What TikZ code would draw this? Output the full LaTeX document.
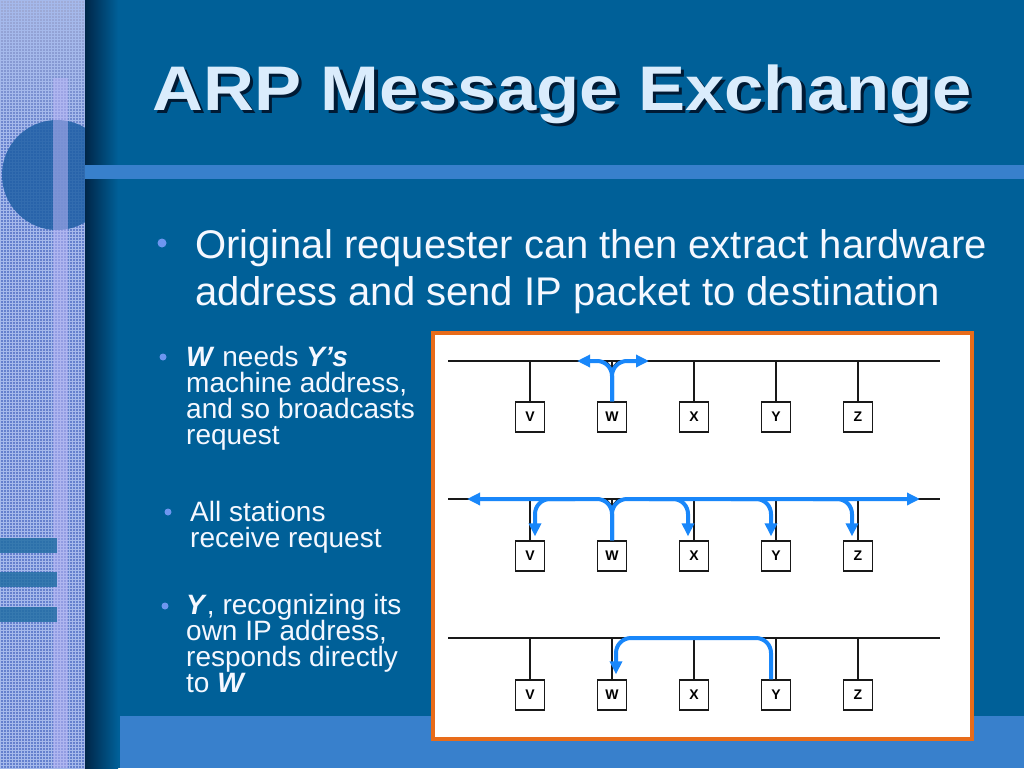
\documentclass[tikz,border=0pt]{standalone}
\usepackage{fontspec}
\setmainfont{Liberation Sans}
\usepackage{graphicx}
\usetikzlibrary{arrows.meta,calc,patterns}
\definecolor{bg}{RGB}{0,96,152}
\definecolor{barc}{RGB}{56,128,204}
\definecolor{stripc}{RGB}{100,128,205}
\definecolor{striptop}{RGB}{160,172,215}
\definecolor{gridc}{RGB}{165,185,235}
\definecolor{stripe}{RGB}{185,180,245}
\definecolor{circc}{RGB}{30,95,165}
\definecolor{tealc}{RGB}{35,110,165}
\definecolor{titlec}{RGB}{218,236,252}
\definecolor{shadowc}{RGB}{0,26,52}
\definecolor{sidesh}{RGB}{0,38,72}
\definecolor{dotc}{RGB}{110,150,240}
\definecolor{orangec}{RGB}{232,108,26}
\definecolor{arrowc}{RGB}{25,135,250}
\definecolor{busc}{RGB}{25,25,25}
\newcommand\mylines[2]{\vtop{\baselineskip=#1\lineskiplimit=-100pt\lineskip=0pt #2}}
\begin{document}
\begin{tikzpicture}[x=1pt,y=-1pt,
  titletext/.style={anchor=base west,inner sep=0pt,font=\fontsize{63}{70}\selectfont\bfseries},
  bodytext/.style={anchor=base west,inner sep=0pt,text={rgb,255:red,245;green,248;blue,255},font=\fontsize{40}{47}\selectfont},
  smalltext/.style={anchor=base west,inner sep=0pt,text={rgb,255:red,245;green,248;blue,255},font=\fontsize{28}{26}\selectfont},
  bigdot/.style={circle,fill=dotc,inner sep=0pt,minimum size=9pt},
  smalldot/.style={circle,fill=dotc,inner sep=0pt,minimum size=7pt},
  station/.style={draw=busc,line width=1.3pt,fill=white,minimum width=29pt,minimum height=30pt,inner sep=0pt,font=\fontsize{14}{14}\selectfont\bfseries},
  bus/.style={draw=busc,line width=2pt},
  stub/.style={draw=busc,line width=1.3pt},
  barrow/.style={draw=arrowc,line width=4pt,rounded corners=15pt,-{Triangle[length=13pt,width=12pt]}},
]
\useasboundingbox (0,0) rectangle (1024,768);
% background
\fill[bg] (0,0) rectangle (1024,768);
% left textured strip
\fill[stripc] (0,0) rectangle (85,768);
\shade[top color=striptop,bottom color=stripc] (0,0) rectangle (85,150);
\fill[pattern=grid,pattern color=gridc] (0,0) rectangle (85,768);
\begin{scope}
  \clip (0,0) rectangle (85,768);
  \fill[circc,opacity=0.85] (57,175) circle (55);
\end{scope}
\fill[stripe,opacity=0.55] (53,78) rectangle (68,768);
\fill[tealc,opacity=0.85] (0,538) rectangle (57,553);
\fill[tealc,opacity=0.85] (0,572) rectangle (57,587);
\fill[tealc,opacity=0.85] (0,607) rectangle (57,622);
% side shadow
\shade[left color=sidesh,right color=bg] (85,0) rectangle (118,768);
% bars
\fill[barc] (85,165) rectangle (1024,179);
\fill[barc] (120,716) rectangle (1024,768);
% title
\node[titletext,text=shadowc] (titlesh) at (155.5,113.5) {\scalebox{1.12}[1]{ARP Message Exchange}};
\node[titletext,text=titlec] (title) at (152,110) {\scalebox{1.12}[1]{ARP Message Exchange}};
% main bullet
\node[bigdot] (d0) at (162,243) {};
\node[bodytext] (t0) at (195,258) {\mylines{47pt}{\hbox{Original requester can then extract hardware}\hbox{address and send IP packet to destination}}};
% small bullets
\node[smalldot] (d1) at (163,357) {};
\node[smalltext] (t1) at (186,366) {\mylines{26pt}{\hbox{\textbf{\textit{W}} needs \textbf{\textit{Y’s}}}\hbox{machine address,}\hbox{and so broadcasts}\hbox{request}}};
\node[smalldot] (d2) at (168,512) {};
\node[smalltext] (t2) at (190,521) {\mylines{26pt}{\hbox{All stations}\hbox{receive request}}};
\node[smalldot] (d3) at (165,606) {};
\node[smalltext] (t3) at (186,614) {\mylines{26pt}{\hbox{\textbf{\textit{Y}}, recognizing its}\hbox{own IP address,}\hbox{responds directly}\hbox{to \textbf{\textit{W}}}}};
% diagram frame
\node[draw=orangec,line width=4pt,fill=white,minimum width=539pt,minimum height=406pt,inner sep=0pt,anchor=north west] (frame) at (431,331) {};
% ---------- diagram 1 ----------
\coordinate (b1l) at (448,361);
\coordinate (b1r) at (940,361);
\draw[bus] (b1l) -- (b1r);
\foreach \n/\x in {V/530,W/612,X/694,Y/776,Z/858}{
  \node[station] (\n1) at (\x,417) {\n};
}
\foreach \n in {V,X,Y,Z}{ \draw[stub] (\n1.north) -- (\n1.north |- b1l); }
\draw[stub] (W1.north) -- (W1.north |- b1l);
\draw[stub] ($(W1.north |- b1l)+(0,7)$) -- ($(W1.north |- b1l)+(-6,0)$);
\draw[stub] ($(W1.north |- b1l)+(0,7)$) -- ($(W1.north |- b1l)+(6,0)$);
\draw[barrow] (W1.north) -- (W1.north |- b1l) -- ($(W1.north |- b1l)+(-35,0)$);
\draw[barrow] (W1.north) -- (W1.north |- b1l) -- ($(W1.north |- b1l)+(37,0)$);
% ---------- diagram 2 ----------
\coordinate (b2l) at (448,499);
\coordinate (b2r) at (940,499);
\draw[bus] (b2l) -- (b2r);
\foreach \n/\x in {V/530,W/612,X/694,Y/776,Z/858}{
  \node[station] (\n2) at (\x,556) {\n};
}
\foreach \n in {V,X,Y,Z}{ \draw[stub] (\n2.north) -- (\n2.north |- b2l); }
\draw[stub] (W2.north) -- (W2.north |- b2l);
\draw[stub] ($(W2.north |- b2l)+(0,7)$) -- ($(W2.north |- b2l)+(-6,0)$);
\draw[stub] ($(W2.north |- b2l)+(0,7)$) -- ($(W2.north |- b2l)+(6,0)$);
\draw[barrow] (W2.north) -- (W2.north |- b2l) -- ($(b2l)+(19,0)$);
\draw[barrow] (W2.north) -- (W2.north |- b2l) -- ($(b2r)+(-20,0)$);
\draw[barrow] ($(V2.north |- b2l)+(45,0)$) -- ($(V2.north |- b2l)+(5,0)$) -- ($(V2.north)+(5,-4)$);
\draw[barrow] ($(X2.north |- b2l)+(-45,0)$) -- ($(X2.north |- b2l)+(-6,0)$) -- ($(X2.north)+(-6,-4)$);
\draw[barrow] ($(Y2.north |- b2l)+(-45,0)$) -- ($(Y2.north |- b2l)+(-5,0)$) -- ($(Y2.north)+(-5,-4)$);
\draw[barrow] ($(Z2.north |- b2l)+(-45,0)$) -- ($(Z2.north |- b2l)+(-6,0)$) -- ($(Z2.north)+(-6,-4)$);
% ---------- diagram 3 ----------
\coordinate (b3l) at (448,638);
\coordinate (b3r) at (940,638);
\draw[bus] (b3l) -- (b3r);
\foreach \n/\x in {V/530,W/612,X/694,Y/776,Z/858}{
  \node[station] (\n3) at (\x,695) {\n};
}
\foreach \n in {V,W,X,Y,Z}{ \draw[stub] (\n3.north) -- (\n3.north |- b3l); }
\draw[barrow] ($(Y3.north)+(-5,0)$) -- ($(Y3.north |- b3l)+(-5,0)$) -- ($(W3.north |- b3l)+(4,0)$) -- ($(W3.north)+(4,-5)$);
\end{tikzpicture}
\end{document}
